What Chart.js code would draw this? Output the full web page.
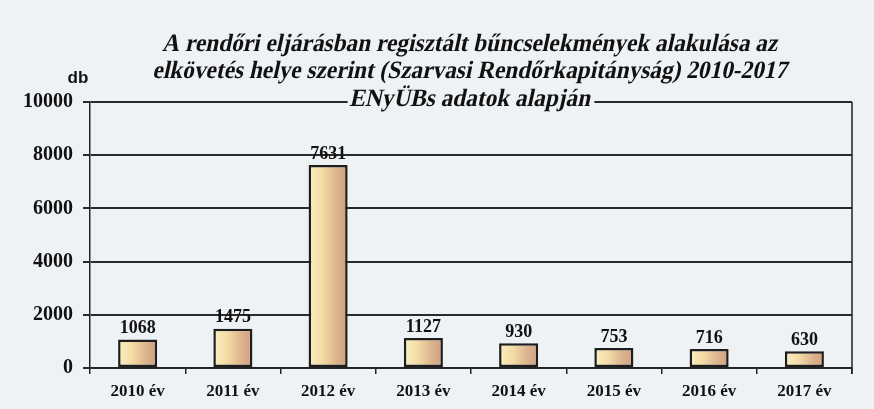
<!DOCTYPE html>
<html>
<head>
<meta charset="utf-8">
<script src="https://cdn.jsdelivr.net/npm/chart.js@4.4.1/dist/chart.umd.min.js"></script>
<style>
  html, body { margin: 0; padding: 0; background: #eff2f5; }
  #wrap { width: 874px; height: 409px; position: relative; }
</style>
</head>
<body>
<div id="wrap"><canvas id="chart_1" width="874" height="409"></canvas></div>
<script>
const labels = ["2010 év", "2011 év", "2012 év", "2013 év", "2014 év", "2015 év", "2016 év", "2017 év"]
const values = [1068, 1475, 7631, 1127, 930, 753, 716, 630]
const y_ticks = [0, 2000, 4000, 6000, 8000, 10000]
const title_lines = [
    "A rendőri eljárásban regisztált bűncselekmények alakulása az",
    "elkövetés helye szerint (Szarvasi Rendőrkapitányság) 2010-2017",
    "ENyÜBs adatok alapján"
]
const y_unit = "db"

const bg = "#eff2f5"
const bar_pct = 0.41
const serif = "'Liberation Serif', 'Times New Roman', Times, serif"

// horizontal gradient for each bar
function bar_fill(ctx){
    const chart = ctx.chart
    const x = chart.scales.x
    if(!x || ctx.dataIndex === undefined) return "#e8cc9c"
    const cx = x.getPixelForValue(ctx.dataIndex)
    const w = (x.right - x.left) / labels.length * bar_pct
    if(!isFinite(cx) || !isFinite(w) || w <= 0) return "#e8cc9c"
    const g = chart.ctx.createLinearGradient(cx - w / 2, 0, cx + w / 2, 0)
    g.addColorStop(0, "#fbf0c0")
    g.addColorStop(0.35, "#f3dca6")
    g.addColorStop(0.7, "#ddb58e")
    g.addColorStop(1, "#cf9f80")
    return g
}

const extras = {
    id: "extras",
    beforeDraw(chart){
        const c = chart.ctx
        c.save()
        c.fillStyle = bg
        c.fillRect(0, 0, chart.width, chart.height)
        c.restore()
    },
    afterDatasetsDraw(chart){
        const c = chart.ctx
        const a = chart.chartArea
        c.save()
        // right border of plot area
        c.strokeStyle = "#222"
        c.lineWidth = 1.5
        c.beginPath()
        c.moveTo(a.right, a.top)
        c.lineTo(a.right, a.bottom + 6)
        c.stroke()

        // value labels
        const meta = chart.getDatasetMeta(0)
        c.fillStyle = "#111"
        c.font = "bold 18px " + serif
        c.textAlign = "center"
        c.textBaseline = "bottom"
        meta.data.forEach((bar, i) => {
            c.fillText(String(values[i]), bar.x, bar.y - 2)
        })

        // unit label
        c.font = "bold 17px 'Liberation Sans', Arial, sans-serif"
        c.textBaseline = "middle"
        c.fillText(y_unit, 78, 78)

        // title, bold serif slanted by hand
        const cx = (a.left + a.right) / 2
        c.font = "bold 25px " + serif
        const sx = 615 / c.measureText(title_lines[0]).width
        const ys = [45, 72, 100]
        title_lines.forEach((t, i) => {
            const w = c.measureText(t).width * sx
            c.fillStyle = bg
            c.fillRect(cx - w / 2 - 3, ys[i] - 11, w + 6, 22)
        })
        c.fillStyle = "#111"
        title_lines.forEach((t, i) => {
            c.save()
            c.translate(cx, ys[i])
            c.transform(sx, 0, -0.22, 1, 0, 0)
            c.fillText(t, 0, 0)
            c.restore()
        })
        c.restore()
    }
}

const config_1 = {
    type: "bar",
    data: {
        labels,
        datasets: [{
            data: values,
            backgroundColor: bar_fill,
            borderColor: "#1e1e1e",
            borderWidth: 2.5,
            borderSkipped: false,
            barPercentage: bar_pct,
            categoryPercentage: 1
        }]
    },
    options: {
        responsive: false,
        animation: false,
        layout: { padding: { top: 102, right: 22, left: 0, bottom: 0 } },
        plugins: {
            legend: { display: false },
            tooltip: { enabled: false }
        },
        scales: {
            x: {
                afterFit(s){ s.height = 41 },
                grid: {
                    offset: true,
                    drawOnChartArea: false,
                    drawTicks: true,
                    tickLength: 6,
                    color: "#222",
                    lineWidth: 1.5
                },
                border: { display: true, color: "#222", width: 1.5 },
                ticks: {
                    color: "#111",
                    font: { family: serif, size: 17, weight: "bold" },
                    padding: 7,
                    maxRotation: 0
                }
            },
            y: {
                min: 0,
                max: 10000,
                afterFit(s){ s.width = 90 },
                afterBuildTicks(s){ s.ticks = y_ticks.map(v => ({ value: v })) },
                grid: {
                    color: "#2a2a2a",
                    lineWidth: 2,
                    drawTicks: true,
                    tickLength: 7
                },
                border: { display: true, color: "#222", width: 1.5 },
                ticks: {
                    color: "#111",
                    font: { family: serif, size: 20, weight: "bold" },
                    padding: 10,
                    callback: v => String(v)
                }
            }
        }
    },
    plugins: [extras]
}

Promise.all([
    document.fonts.load("bold 18px 'Liberation Serif'"),
    document.fonts.load("bold 17px 'Liberation Sans'")
]).catch(() => {}).then(() => {
    const chart_1 = new Chart(document.getElementById("chart_1").getContext("2d"), config_1)
})
</script>
</body>
</html>
